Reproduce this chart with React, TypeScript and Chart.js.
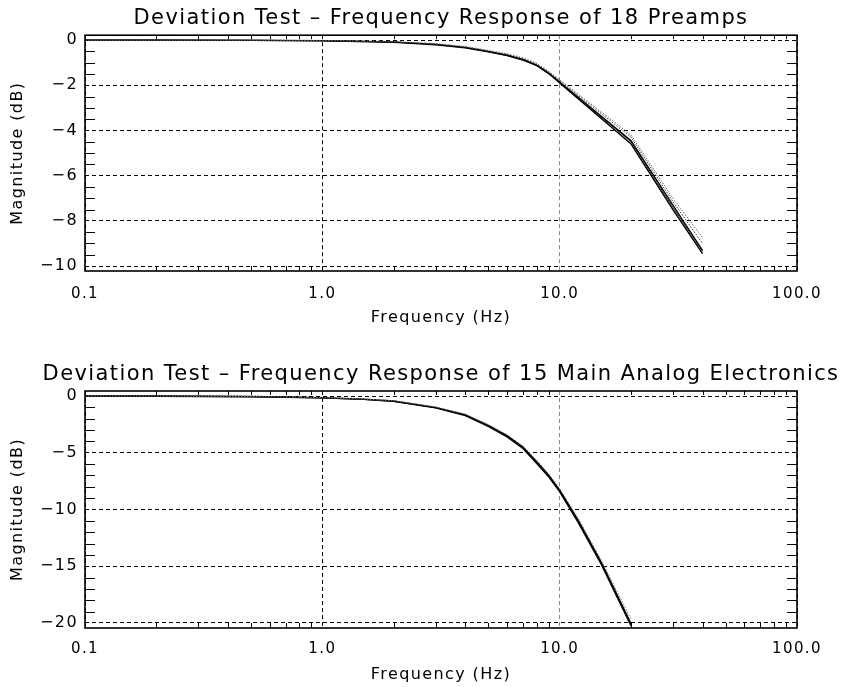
import React, { useEffect, useRef } from "react";
import { Chart, registerables } from "chart.js";

Chart.register(...registerables);

const FONT = "'DejaVu Sans ExtraLight', 'DejaVu Sans', 'Liberation Sans', sans-serif";

// ---------- shared x axis ----------
const xTickValues = [0.1, 1, 10, 100];
const xTickLabels = ["0.1", "1.0", "10.0", "100.0"];

// ---------- top chart: 18 preamps ----------
const preampTitle = "Deviation Test \u2013 Frequency Response of 18 Preamps";
const preampFreq = [0.1, 0.2, 0.5, 1, 2, 3, 4, 5, 6, 7, 8, 9, 10, 20, 30, 40];
const preampA = [0, 0, -0.01, -0.03, -0.09, -0.2, -0.34, -0.52, -0.68, -0.88, -1.12, -1.48, -1.9, -4.6, -7.5, -9.45];
const preampB = [0, 0, -0.01, -0.02, -0.08, -0.18, -0.32, -0.5, -0.66, -0.85, -1.1, -1.45, -1.85, -4.45, -7.3, -9.3];
const preampC = [0, 0, 0, -0.01, -0.06, -0.15, -0.28, -0.45, -0.6, -0.78, -1.02, -1.38, -1.75, -4.2, -7.0, -8.75];
const preampD = [0, 0, 0, -0.02, -0.07, -0.17, -0.3, -0.48, -0.63, -0.82, -1.06, -1.42, -1.8, -4.3, -7.15, -9.0];
const preampE = [0, 0, -0.01, -0.02, -0.08, -0.19, -0.33, -0.51, -0.67, -0.87, -1.14, -1.5, -1.88, -4.5, -7.4, -9.35];
const preampYTicks = [0, -2, -4, -6, -8, -10];
const preampYLabels = ["0", "\u22122", "\u22124", "\u22126", "\u22128", "\u221210"];

// ---------- bottom chart: 15 main analog electronics ----------
const mainTitle = "Deviation Test \u2013 Frequency Response of 15 Main Analog Electronics";
const mainFreq = [0.1, 0.2, 0.5, 1, 1.5, 2, 3, 4, 5, 6, 7, 8, 9, 10, 12, 15, 20];
const mainA = [0, 0, -0.05, -0.15, -0.28, -0.44, -1.0, -1.65, -2.6, -3.5, -4.5, -5.8, -7.0, -8.3, -11.0, -14.7, -20.1];
const mainB = [0, 0, -0.04, -0.13, -0.26, -0.41, -0.95, -1.6, -2.5, -3.4, -4.4, -5.65, -6.85, -8.15, -10.8, -14.5, -19.7];
const mainC = [0, 0, -0.05, -0.16, -0.3, -0.47, -1.05, -1.72, -2.68, -3.6, -4.62, -5.95, -7.15, -8.45, -11.2, -14.9, -20.3];
const mainYTicks = [0, -5, -10, -15, -20];
const mainYLabels = ["0", "\u22125", "\u221210", "\u221215", "\u221220"];

const pts = (xs: number[], ys: number[]) => xs.map((x, i) => ({ x, y: ys[i] }));

const spacingPlugin = {
  id: "spacing",
  afterLayout(chart: any) {
    // let the centred title run wider than the plot area without being squeezed
    const tb = chart.titleBlock;
    if (tb) {
      tb.left -= 60;
      tb.right += 60;
    }
  },
  beforeDraw(chart: any) {
    (chart.ctx as any).letterSpacing = "1.4px";
  },
};

const framePlugin = {
  id: "frame",
  afterDatasetsDraw(chart: any, _args: any, opts: any) {
    const { ctx, chartArea, scales } = chart;
    const { left, right, top, bottom } = chartArea;
    const x = scales.x;
    const y = scales.y;
    ctx.save();
    ctx.strokeStyle = "#000";
    ctx.lineWidth = 1;
    ctx.setLineDash([]);
    ctx.beginPath();
    // log minor ticks on x (top and bottom)
    for (let dec = 0.1; dec < 100; dec *= 10) {
      for (let m = 2; m <= 9; m++) {
        const px = Math.round(x.getPixelForValue(dec * m)) + 0.5;
        ctx.moveTo(px, bottom);
        ctx.lineTo(px, bottom - 5);
        ctx.moveTo(px, top);
        ctx.lineTo(px, top + 4);
      }
    }
    // minor ticks on y (left and right)
    const step = opts.minorStep;
    const majorStep = opts.majorStep;
    for (let v = 0; v >= opts.minorMin - 1e-9; v -= step) {
      const r = v / majorStep;
      if (Math.abs(r - Math.round(r)) < 1e-6) continue;
      const py = Math.round(y.getPixelForValue(v)) + 0.5;
      ctx.moveTo(left, py);
      ctx.lineTo(left + 10, py);
      ctx.moveTo(right, py);
      ctx.lineTo(right - 10, py);
    }
    ctx.stroke();
    ctx.lineWidth = 1.6;
    ctx.strokeRect(left, top, right - left, bottom - top);
    ctx.restore();
  },
};

function makeConfig(p: any): any {
  return {
    type: "line",
    data: {
      datasets: p.datasets,
    },
    options: {
      responsive: false,
      animation: false,
      events: [],
      layout: { padding: { left: 0, right: 44, top: 0, bottom: p.padBottom } },
      plugins: {
        legend: { display: false },
        tooltip: { enabled: false },
        title: {
          display: true,
          text: p.title,
          fullSize: false,
          color: "#000",
          font: { family: FONT, size: 21, weight: "normal" },
          padding: { top: p.titlePadTop, bottom: p.titlePadBottom },
        },
        frame: { minorStep: p.minorStep, majorStep: p.majorStep, minorMin: p.yMinTick },
      },
      elements: { point: { radius: 0 }, line: { tension: 0 } },
      scales: {
        x: {
          type: "logarithmic",
          min: 0.1,
          max: 100,
          afterBuildTicks: (s: any) => {
            s.ticks = xTickValues.map((v) => ({ value: v }));
          },
          afterFit: (s: any) => {
            s.height = p.xAxisHeight;
          },
          ticks: {
            autoSkip: false,
            maxRotation: 0,
            color: "#000",
            padding: p.xTickPad,
            font: { family: FONT, size: 15 },
            callback: (v: number) => xTickLabels[xTickValues.indexOf(v)] ?? "",
          },
          grid: {
            drawTicks: false,
            lineWidth: 1,
            color: (c: any) => (c.tick && c.tick.value === 10 ? "#8a8a8a" : "#000"),
          },
          border: { display: false, dash: [4, 3] },
          title: {
            display: true,
            text: "Frequency (Hz)",
            color: "#000",
            font: { family: FONT, size: 16 },
            padding: { top: 0, bottom: p.xTitlePad },
          },
        },
        y: {
          type: "linear",
          min: p.yMin,
          max: p.yMax,
          afterBuildTicks: (s: any) => {
            s.ticks = p.yTicks.map((v: number) => ({ value: v }));
          },
          afterFit: (s: any) => {
            s.width = 85;
          },
          ticks: {
            color: "#000",
            padding: 7,
            font: { family: FONT, size: 16 },
            callback: (v: number) => p.yLabels[p.yTicks.indexOf(v)] ?? "",
          },
          grid: { drawTicks: false, lineWidth: 1, color: "#000" },
          border: { display: false, dash: [4, 3] },
          title: {
            display: true,
            text: "Magnitude (dB)",
            color: "#000",
            font: { family: FONT, size: 16 },
            padding: { top: 8, bottom: 0 },
          },
        },
      },
    },
    plugins: [spacingPlugin, framePlugin],
  };
}

const solid = (data: any[], w = 1.2, c = "#000") => ({
  data,
  borderColor: c,
  borderWidth: w,
  pointRadius: 0,
  fill: false,
});
const dotted = (data: any[], c = "#555") => ({
  data,
  borderColor: c,
  borderWidth: 1,
  borderDash: [1.5, 1.5],
  pointRadius: 0,
  fill: false,
});

export default function App() {
  const topRef = useRef<HTMLCanvasElement | null>(null);
  const botRef = useRef<HTMLCanvasElement | null>(null);

  useEffect(() => {
    const c1 = new Chart(
      topRef.current as HTMLCanvasElement,
      makeConfig({
        title: preampTitle,
        titlePadTop: 5.5,
        titlePadBottom: 4.5,
        padBottom: 9,
        xAxisHeight: 60,
        xTickPad: 14.5,
        xTitlePad: 4,
        yMin: -10.22,
        yMax: 0.22,
        yTicks: preampYTicks,
        yLabels: preampYLabels,
        minorStep: 0.5,
        majorStep: 2,
        yMinTick: -10,
        datasets: [
          dotted(pts(preampFreq, preampC), "#666"),
          dotted(pts(preampFreq, preampD), "#333"),
          solid(pts(preampFreq, preampB), 1.2),
          solid(pts(preampFreq, preampE), 1.0, "#222"),
          solid(pts(preampFreq, preampA), 1.4),
        ],
      })
    );
    const c2 = new Chart(
      botRef.current as HTMLCanvasElement,
      makeConfig({
        title: mainTitle,
        titlePadTop: 22.4,
        titlePadBottom: 3.4,
        padBottom: 1,
        xAxisHeight: 58,
        xTickPad: 12,
        xTitlePad: 1.6,
        yMin: -20.45,
        yMax: 0.45,
        yTicks: mainYTicks,
        yLabels: mainYLabels,
        minorStep: 1,
        majorStep: 5,
        yMinTick: -20,
        datasets: [
          dotted(pts(mainFreq, mainB), "#777"),
          solid(pts(mainFreq, mainC), 1.2),
          solid(pts(mainFreq, mainA), 1.6),
        ],
      })
    );
    return () => {
      c1.destroy();
      c2.destroy();
    };
  }, []);

  return (
    <div
      style={{
        position: "absolute",
        left: 0,
        top: 0,
        width: 841,
        height: 687,
        background: "#fff",
      }}
    >
      <canvas ref={topRef} width={841} height={340} style={{ display: "block" }} />
      <canvas ref={botRef} width={841} height={347} style={{ display: "block" }} />
    </div>
  );
}
